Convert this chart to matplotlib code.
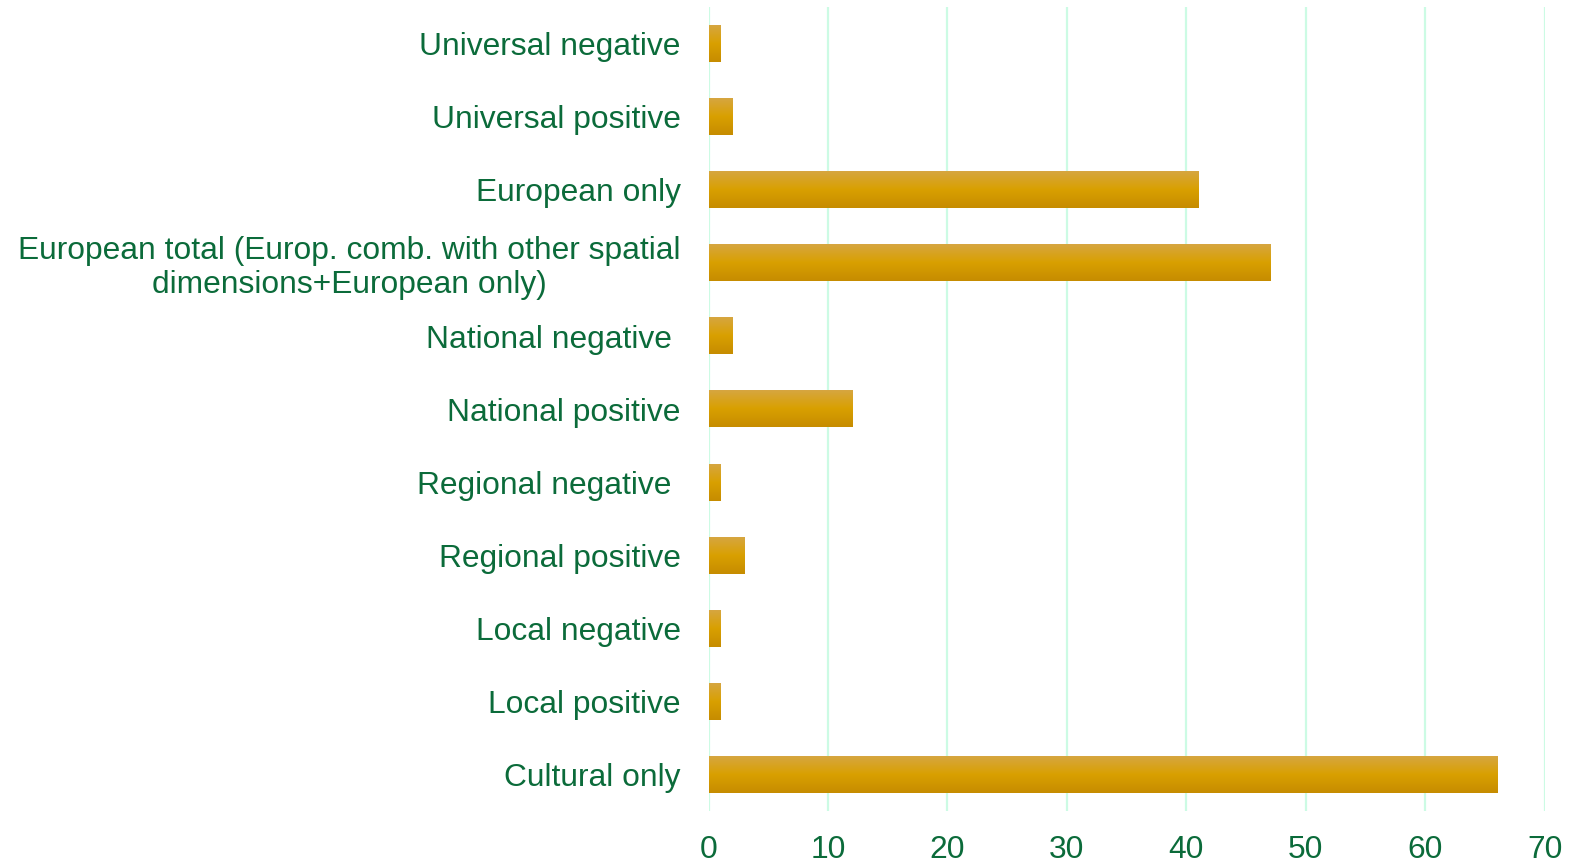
import numpy as np
import matplotlib
matplotlib.use("Agg")
import matplotlib.pyplot as plt
from matplotlib.colors import LinearSegmentedColormap

categories = [
    "Universal negative",
    "Universal positive",
    "European only",
    "European total (Europ. comb. with other spatial\ndimensions+European only)",
    "National negative ",
    "National positive",
    "Regional negative ",
    "Regional positive",
    "Local negative",
    "Local positive",
    "Cultural only",
]
values = [1, 2, 41, 47, 2, 12, 1, 3, 1, 1, 66]
xticks = [0, 10, 20, 30, 40, 50, 60, 70]

TEXT = "#0B6B3A"
GRID = "#CCFBE4"
plt.rcParams["font.family"] = ["Liberation Sans", "DejaVu Sans"]

fig = plt.figure(figsize=(15.78, 8.65), dpi=100)
ax = fig.add_axes([0.449, 0.062, 0.530, 0.930])

n = len(categories)
ypos = np.arange(n)
h = 0.5
# vertical gradient: light top, gold middle, darker bottom
grad = LinearSegmentedColormap.from_list("g", ["#D6A640", "#D9A000", "#C68C00"])
g = np.linspace(0, 1, 64).reshape(-1, 1)
for y, v in zip(ypos, values):
    ax.imshow(g, cmap=grad, aspect="auto", extent=[0, v, y + h / 2, y - h / 2],
              origin="upper", zorder=3, interpolation="bilinear")

ax.set_xlim(0, 70)
ax.set_ylim(n - 0.5, -0.5)
ax.set_xticks(xticks)
ax.set_yticks(ypos)
ax.set_yticklabels(categories, multialignment="center", linespacing=1.14)
ax.tick_params(axis="y", length=0, pad=20, labelsize=22.9, labelcolor=TEXT)
ax.tick_params(axis="x", length=0, pad=17, labelsize=22.9, labelcolor=TEXT)
ax.grid(axis="x", color=GRID, linewidth=1.6, zorder=0)
for s in ax.spines.values():
    s.set_visible(False)

fig.savefig("out.png", dpi=100)
